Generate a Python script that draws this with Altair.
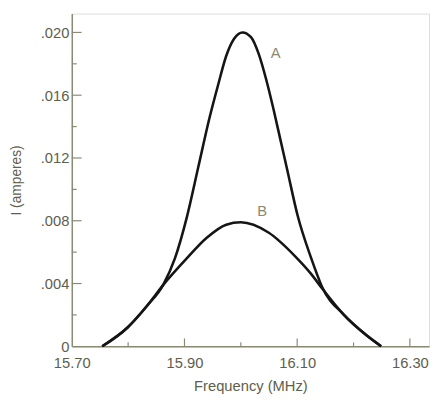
import altair as alt
import pandas as pd

# Curve A (high Q) — frequency (MHz), current (A)
a_freq = [15.754, 15.799, 15.834, 15.862, 15.883, 15.904, 15.925, 15.944, 15.960,
          15.974, 15.988, 16.003, 16.018, 16.032, 16.045, 16.058, 16.070, 16.082,
          16.101, 16.125, 16.144, 16.183, 16.223, 16.249]
a_curr = [0.0, 0.0012, 0.0026, 0.0039, 0.0056, 0.0082, 0.0115, 0.0145, 0.0167,
          0.0185, 0.0196, 0.0200, 0.0197, 0.0186, 0.0170, 0.0151, 0.0132, 0.0113,
          0.0083, 0.0056, 0.0038, 0.0020, 0.0007, 0.0]

# Curve B (low Q)
b_freq = [15.754, 15.799, 15.834, 15.862, 15.904, 15.939, 15.974, 16.000, 16.049,
          16.096, 16.125, 16.144, 16.183, 16.223, 16.249]
b_curr = [0.0, 0.0012, 0.0026, 0.0039, 0.0056, 0.0069, 0.00775, 0.0079, 0.00725,
          0.00575, 0.0046, 0.0037, 0.0020, 0.0007, 0.0]

curve_labels = ["A", "B"]
label_freq = [16.062, 16.038]
label_curr = [0.0187, 0.0086]

x_tick_values = [15.7, 15.9, 16.1, 16.3]
x_tick_labels = ["15.70", "15.90", "16.10", "16.30"]
x_minor = [15.8, 16.0, 16.2]
y_tick_values = [0.0, 0.004, 0.008, 0.012, 0.016, 0.020]
y_tick_labels = ["0", ".004", ".008", ".012", ".016", ".020"]
y_minor = [0.002, 0.006, 0.010, 0.014, 0.018]

W, H = 364, 339
AX = "#8a8a74"
TXT = "#5e5e4c"
FONT = "Liberation Sans"

df = pd.concat([
    pd.DataFrame({"f": a_freq, "i": a_curr, "curve": "A"}),
    pd.DataFrame({"f": b_freq, "i": b_curr, "curve": "B"}),
])
lab = pd.DataFrame({"f": label_freq, "i": label_curr, "t": curve_labels})

def make_expr(vals, labels):
    parts = " : ".join(
        f"abs(datum.value - {v}) < 1e-9 ? '{l}'" for v, l in zip(vals, labels)
    )
    return parts + " : ''"

xscale = alt.Scale(domain=[15.70, 16.334], nice=False, zero=False)
yscale = alt.Scale(domain=[0, 0.0212], nice=False)

xaxis = alt.Axis(values=x_tick_values, labelExpr=make_expr(x_tick_values, x_tick_labels),
                 ticks=False, grid=False, domainColor=AX, domainWidth=1.5,
                 labelColor=TXT, labelFont=FONT, labelFontSize=15, labelPadding=10,
                 title="Frequency (MHz)", titleColor=TXT, titleFont=FONT,
                 titleFontSize=15, titleFontWeight="normal", titlePadding=8,
                 labelFlush=False, labelOverlap=False)
yaxis = alt.Axis(values=y_tick_values, labelExpr=make_expr(y_tick_values, y_tick_labels),
                 ticks=False, grid=False, domainColor=AX, domainWidth=1.5,
                 labelColor=TXT, labelFont=FONT, labelFontSize=15, labelPadding=3,
                 title="I (amperes)", titleColor=TXT, titleFont=FONT,
                 titleFontSize=14, titleFontWeight="normal", titlePadding=17,
                 labelFlush=False, labelOverlap=False, labelBaseline="middle")

lines = alt.Chart(df).mark_line(color="#151515", strokeWidth=2.6, interpolate="monotone").encode(
    x=alt.X("f:Q", scale=xscale, axis=xaxis),
    y=alt.Y("i:Q", scale=yscale, axis=yaxis),
    detail="curve:N",
)

texts = alt.Chart(lab).mark_text(color="#8a8a70", font=FONT, fontSize=15).encode(
    x=alt.X("f:Q", scale=xscale), y=alt.Y("i:Q", scale=yscale), text="t:N"
)

xmaj = alt.Chart(pd.DataFrame({"v": x_tick_values[1:]})).mark_rule(color=AX, strokeWidth=1.2).encode(
    x=alt.X("v:Q", scale=xscale), y=alt.value(H), y2=alt.value(H - 8))
xmin = alt.Chart(pd.DataFrame({"v": x_minor})).mark_rule(color=AX, strokeWidth=1.2).encode(
    x=alt.X("v:Q", scale=xscale), y=alt.value(H), y2=alt.value(H - 4))
ymaj = alt.Chart(pd.DataFrame({"v": y_tick_values[1:]})).mark_rule(color=AX, strokeWidth=1.2).encode(
    y=alt.Y("v:Q", scale=yscale), x=alt.value(0), x2=alt.value(10))
ymin = alt.Chart(pd.DataFrame({"v": y_minor})).mark_rule(color=AX, strokeWidth=1.2).encode(
    y=alt.Y("v:Q", scale=yscale), x=alt.value(0), x2=alt.value(5))

chart = alt.layer(xmaj, xmin, ymaj, ymin, lines, texts).properties(
    width=W, height=H,
    autosize=alt.AutoSizeParams(type="none"),
    padding={"left": 65, "top": 2, "right": 2, "bottom": 50},
).configure_view(stroke=None).configure(background="white")

chart.save("out.html", embed_options={"renderer": "svg", "actions": False})
